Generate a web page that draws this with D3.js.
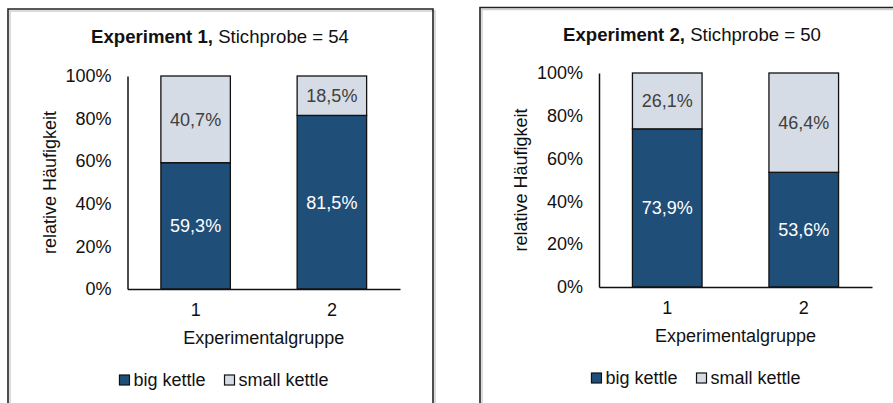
<!DOCTYPE html>
<html>
<head>
<meta charset="utf-8">
<style>
  body { margin: 0; background: #fff; }
  svg { display: block; font-family: "Liberation Sans", Arial, sans-serif; }
</style>
</head>
<body>
<div id="chart"></div>
<script src="https://d3js.org/d3.v7.min.js"></script>
<script>
// data
var groups = ["1", "2"];
var seriesNames = ["big kettle", "small kettle"];
var exp1Big = [59.3, 81.5];
var exp1Small = [40.7, 18.5];
var exp2Big = [73.9, 53.6];
var exp2Small = [26.1, 46.4];
var yTicks = [0, 20, 40, 60, 80, 100];
var titlesBold = ["Experiment 1,", "Experiment 2,"];
var titlesRest = [" Stichprobe = 54", " Stichprobe = 50"];

var W = 893, H = 403;
var colors = ["#1f4e79", "#d6dce5"];
var labelColors = ["#ffffff", "#404040"];
var fs = 18;
var titleFs = 18.6;

var svg = d3.select("#chart").append("svg").attr("width", W).attr("height", H);

function fmt(v) { return v.toFixed(1).replace(".", ",") + "%"; }

function panel(opt) {
  var g = svg.append("g");

  // frame with a soft shadow line
  var f = opt.frame;
  g.append("path")
    .attr("d", "M" + (f.x0 + 2) + "," + (H + 5) + "V" + (f.y0 + 2) + "H" + (f.x1 == null ? W + 5 : f.x1 + 2) + (f.x1 == null ? "" : "V" + (H + 5)))
    .attr("fill", "none").attr("stroke", "#d0d0d0").attr("stroke-width", 1.5);
  g.append("path")
    .attr("d", "M" + f.x0 + "," + (H + 5) + "V" + f.y0 + "H" + (f.x1 == null ? W + 5 : f.x1) + (f.x1 == null ? "" : "V" + (H + 5)))
    .attr("fill", "none").attr("stroke", "#222").attr("stroke-width", 1.6);

  var x = d3.scaleBand().domain(groups).range([opt.left, opt.right]).paddingInner(0.49).paddingOuter(0.245);
  var y = d3.scaleLinear().domain([0, 100]).range([opt.bottom, opt.top]);

  // title
  var t = g.append("text").attr("x", opt.titleX).attr("y", opt.titleY)
    .attr("text-anchor", "middle").attr("font-size", titleFs).attr("fill", "#111");
  t.append("tspan").attr("font-weight", "bold").text(titlesBold[opt.i]);
  t.append("tspan").text(titlesRest[opt.i]);

  // stacked bars
  var rows = groups.map(function (d, j) { return { group: d, big: opt.big[j], small: opt.small[j] }; });
  var stack = d3.stack().keys(["big", "small"])(rows);
  stack.forEach(function (layer, k) {
    var lg = g.append("g");
    lg.selectAll("rect").data(layer).enter().append("rect")
      .attr("x", function (d) { return x(d.data.group); })
      .attr("y", function (d) { return y(d[1]); })
      .attr("width", x.bandwidth())
      .attr("height", function (d) { return y(d[0]) - y(d[1]); })
      .attr("fill", colors[k])
      .attr("stroke", "#111").attr("stroke-width", 1.3);
    lg.selectAll("text").data(layer).enter().append("text")
      .attr("x", function (d) { return x(d.data.group) + x.bandwidth() / 2; })
      .attr("y", function (d) { return (y(d[0]) + y(d[1])) / 2; })
      .attr("dy", "0.35em")
      .attr("text-anchor", "middle").attr("font-size", fs)
      .attr("fill", labelColors[k])
      .text(function (d) { return fmt(d[1] - d[0]); });
  });

  // axes
  var ya = g.append("g").attr("transform", "translate(" + opt.left + ",0)")
    .call(d3.axisLeft(y).tickValues(yTicks).tickSize(0).tickPadding(16).tickFormat(function (d) { return d + "%"; }));
  ya.select(".domain").attr("stroke", "#111").attr("stroke-width", 1.5);
  ya.selectAll("text").attr("font-size", fs).attr("fill", "#111").attr("font-family", null);

  var xa = g.append("g").attr("transform", "translate(0," + opt.bottom + ")")
    .call(d3.axisBottom(x).tickSize(0).tickPadding(14));
  xa.select(".domain").attr("stroke", "#111").attr("stroke-width", 1.5);
  xa.selectAll("text").attr("font-size", fs).attr("fill", "#111").attr("font-family", null);

  // axis titles
  g.append("text")
    .attr("transform", "translate(" + (opt.left - 78) + "," + ((opt.top + opt.bottom) / 2) + ") rotate(-90)")
    .attr("text-anchor", "middle").attr("dy", "0.35em").attr("font-size", fs).attr("fill", "#111")
    .text("relative Häufigkeit");
  g.append("text")
    .attr("x", (opt.left + opt.right) / 2).attr("y", opt.bottom + 49).attr("dy", "0.35em")
    .attr("text-anchor", "middle").attr("font-size", fs).attr("fill", "#111")
    .text("Experimentalgruppe");

  // legend
  var leg = g.append("g");
  var cx = 0;
  seriesNames.forEach(function (name, k) {
    leg.append("rect").attr("x", cx).attr("y", -5).attr("width", 10).attr("height", 10)
      .attr("fill", colors[k]).attr("stroke", "#111").attr("stroke-width", 1.2);
    var tx = leg.append("text").attr("x", cx + 14).attr("y", 0).attr("dy", "0.35em")
      .attr("font-size", fs).attr("fill", "#111").text(name);
    cx += 14 + tx.node().getComputedTextLength() + 19;
  });
  var lw = cx - 19;
  leg.attr("transform", "translate(" + (opt.legendX - lw / 2) + "," + (opt.bottom + 91) + ")");
}

panel({ i: 0, big: exp1Big, small: exp1Small,
  frame: { x0: 8, y0: 9, x1: 433 },
  left: 127.5, right: 400, top: 76, bottom: 289,
  titleX: 220, titleY: 43, legendX: 224 });

panel({ i: 1, big: exp2Big, small: exp2Small,
  frame: { x0: 480, y0: 7.5, x1: null },
  left: 599, right: 872, top: 73, bottom: 287,
  titleX: 692, titleY: 41, legendX: 696 });
</script>
</body>
</html>
